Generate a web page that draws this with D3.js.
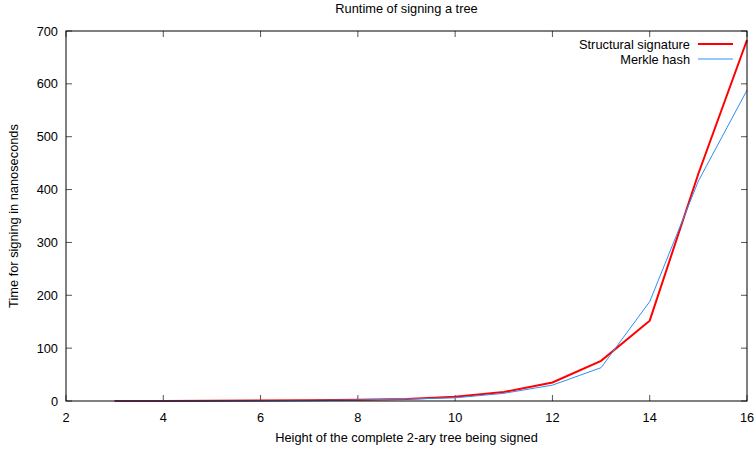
<!DOCTYPE html>
<html><head><meta charset="utf-8">
<script src="https://cdn.jsdelivr.net/npm/d3@7"></script>
<style>body{margin:0;background:#fff}text{font-family:"Liberation Sans",Arial,sans-serif;font-size:12.8px;fill:#000}</style>
</head><body><svg id="c" width="754" height="449"></svg>
<script>
const heights = [3,4,5,6,7,8,9,10,11,12,13,14,15,16];
const structural = [0.1,0.2,0.4,0.8,1.3,2.2,4,8,17,35,76,152,430,683];
const merkle = [0.1,0.2,0.3,0.6,1.1,2,3.8,6,14.5,30,63,188,416,588];
const xTicks = [2,4,6,8,10,12,14,16];
const yTicks = [0,100,200,300,400,500,600,700];
const seriesNames = ["Structural signature","Merkle hash"];
const colors = ["#ff0000","#2e8ef6"];
const widths = [2,1];

const svg = d3.select("#c");
const L=66,R=747,T=31,B=401;
const x = d3.scaleLinear().domain([2,16]).range([L,R]);
const y = d3.scaleLinear().domain([0,700]).range([B,T]);

const tk=6;
const g = svg.append("g");
xTicks.forEach(v=>{
  g.append("line").attr("x1",x(v)).attr("x2",x(v)).attr("y1",B).attr("y2",B-tk).attr("stroke","#555");
  g.append("line").attr("x1",x(v)).attr("x2",x(v)).attr("y1",T).attr("y2",T+tk).attr("stroke","#555");
  svg.append("text").attr("x",x(v)).attr("y",B+21).attr("text-anchor","middle").text(v);
});
yTicks.forEach(v=>{
  g.append("line").attr("x1",L).attr("x2",L+tk).attr("y1",y(v)).attr("y2",y(v)).attr("stroke","#555");
  g.append("line").attr("x1",R).attr("x2",R-tk).attr("y1",y(v)).attr("y2",y(v)).attr("stroke","#555");
  svg.append("text").attr("x",L-8).attr("y",y(v)+4.5).attr("text-anchor","end").text(v);
});

const line = d3.line().x((d,i)=>x(heights[i])).y(d=>y(d));
[structural,merkle].forEach((s,k)=>{
  svg.append("path").attr("d",line(s)).attr("fill","none").attr("stroke",colors[k]).attr("stroke-width",widths[k]).attr("stroke-linejoin","miter");
});
svg.append("rect").attr("x",L).attr("y",T).attr("width",R-L).attr("height",B-T).attr("fill","none").attr("stroke","#000").attr("stroke-width",1);

seriesNames.forEach((n,k)=>{
  const ly = 44 + k*15;
  svg.append("text").attr("x",690).attr("y",ly+4.5).attr("text-anchor","end").text(n);
  svg.append("line").attr("x1",698).attr("x2",733).attr("y1",ly).attr("y2",ly).attr("stroke",colors[k]).attr("stroke-width",widths[k]);
});

svg.append("text").attr("x",(L+R)/2).attr("y",13).attr("text-anchor","middle").text("Runtime of signing a tree");
svg.append("text").attr("x",(L+R)/2).attr("y",442).attr("text-anchor","middle").text("Height of the complete 2-ary tree being signed");
svg.append("text").attr("transform",`translate(18,${(T+B)/2}) rotate(-90)`).attr("text-anchor","middle").text("Time for signing in nanoseconds");
</script></body></html>
